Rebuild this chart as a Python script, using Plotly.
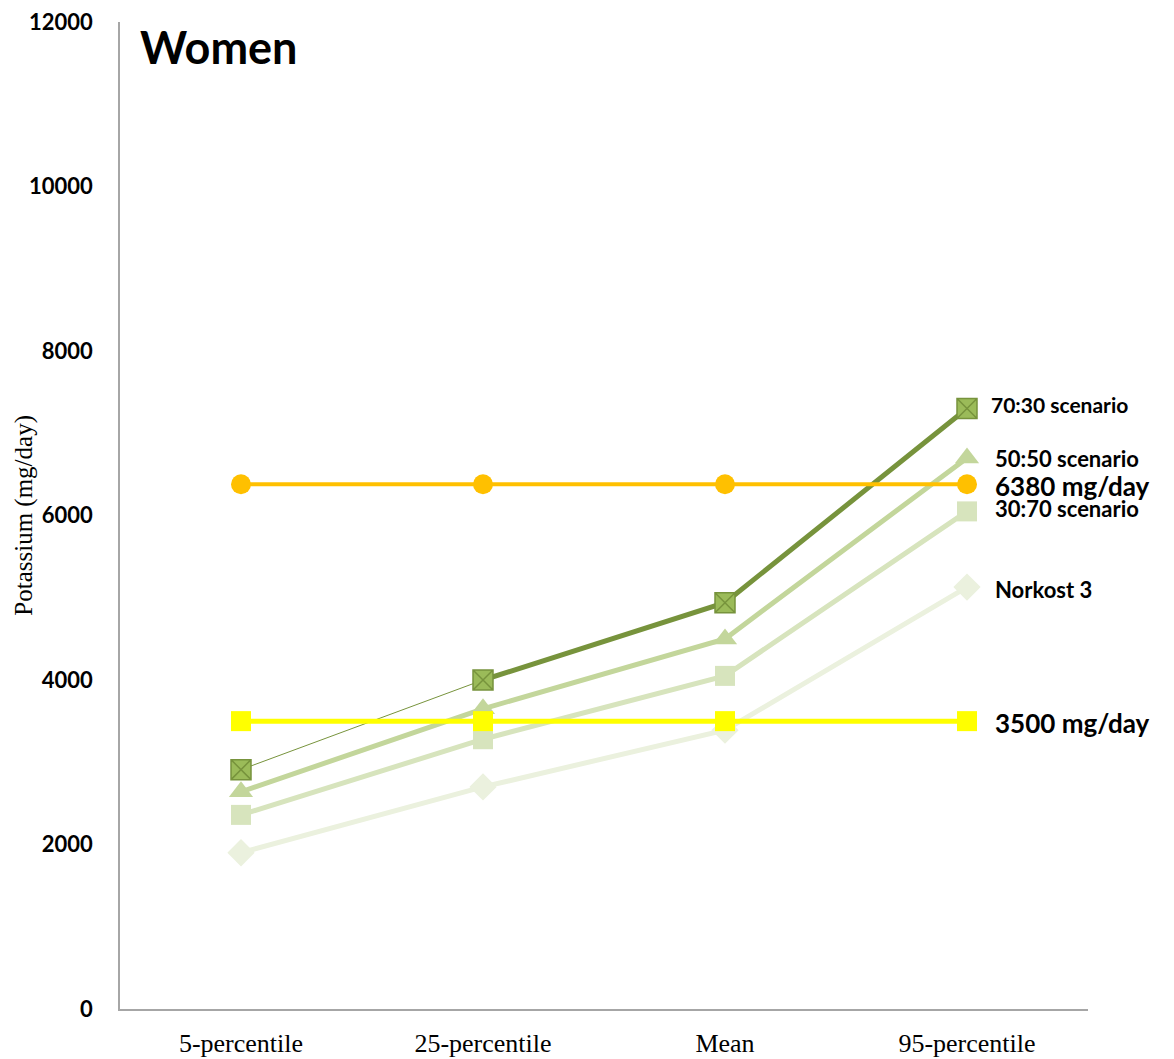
import plotly.graph_objects as go

# Percentile categories on the x axis
categories = ["5-percentile", "25-percentile", "Mean", "95-percentile"]

# Potassium intake (mg/day) per scenario
norkost3 = [1900, 2700, 3390, 5130]
scen_30_70 = [2360, 3280, 4050, 6050]
scen_50_50 = [2640, 3650, 4500, 6700]
scen_70_30 = [2910, 4000, 4940, 7300]

# Reference intake levels (mg/day)
upper_level = [6380, 6380, 6380, 6380]
recommended = [3500, 3500, 3500, 3500]

SANS = "Lato, 'Open Sans', sans-serif"
SERIF = "'Liberation Serif', 'Times New Roman', serif"

fig = go.Figure()

fig.add_trace(go.Scatter(
    x=categories, y=norkost3, mode="lines+markers",
    line=dict(color="#EBF1DE", width=5),
    marker=dict(symbol="diamond", size=21, color="#EBF1DE"),
))
fig.add_trace(go.Scatter(
    x=categories, y=scen_30_70, mode="lines+markers",
    line=dict(color="#D7E4BD", width=5),
    marker=dict(symbol="square", size=20, color="#D7E4BD"),
))
fig.add_trace(go.Scatter(
    x=categories, y=scen_50_50, mode="lines+markers",
    line=dict(color="#C3D69B", width=5),
    marker=dict(symbol="triangle-up", size=21, color="#C3D69B"),
))
# 70:30 scenario: thin first segment, thick remainder
fig.add_trace(go.Scatter(
    x=categories[:2], y=scen_70_30[:2], mode="lines",
    line=dict(color="#77933C", width=1),
))
fig.add_trace(go.Scatter(
    x=categories[1:], y=scen_70_30[1:], mode="lines",
    line=dict(color="#77933C", width=5),
))
fig.add_trace(go.Scatter(
    x=categories, y=scen_70_30, mode="markers",
    marker=dict(symbol="square-x", size=20, color="#9BBB59",
                line=dict(color="#77933C", width=1.5)),
))
fig.add_trace(go.Scatter(
    x=categories, y=upper_level, mode="lines+markers",
    line=dict(color="#FFC000", width=4),
    marker=dict(symbol="circle", size=20, color="#FFC000"),
))
fig.add_trace(go.Scatter(
    x=categories, y=recommended, mode="lines+markers",
    line=dict(color="#FFFF00", width=5),
    marker=dict(symbol="square", size=20, color="#FFFF00"),
))

# End-of-line labels: text, anchor value, font size, x offset, y offset (px)
end_labels = [
    ("70:30 scenario", scen_70_30[-1], 21, 22, 4),
    ("50:50 scenario", scen_50_50[-1], 22, 26, -1),
    ("6380 mg/day", upper_level[-1], 26, 26, -2),
    ("30:70 scenario", scen_30_70[-1], 22, 26, 3),
    ("Norkost 3", norkost3[-1], 22, 26, -2),
    ("3500 mg/day", recommended[-1], 26, 26, -2),
]
for text, yv, size, xs, ys in end_labels:
    fig.add_annotation(
        x=categories[-1], y=yv, xref="x", yref="y", text="<b>" + text + "</b>",
        showarrow=False, xanchor="left", yanchor="middle",
        xshift=xs, yshift=ys, font=dict(family=SANS, size=size, color="black"),
    )

fig.add_annotation(
    x=0.019, y=0.975, xref="paper", yref="paper", text="<b>Women</b>",
    showarrow=False, xanchor="left", yanchor="middle",
    font=dict(family=SANS, size=45, color="black"),
)
fig.add_annotation(
    x=-0.1, y=0.5, xref="paper", yref="paper", text="Potassium (mg/day)",
    showarrow=False, textangle=-90, xanchor="center", yanchor="middle",
    font=dict(family=SERIF, size=25, color="black"),
)

fig.update_layout(
    width=1174, height=1059,
    margin=dict(l=120, r=86, t=22, b=50),
    paper_bgcolor="white", plot_bgcolor="white",
    showlegend=False,
    xaxis=dict(
        type="category", range=[-0.5, 3.5], automargin=False,
        showline=True, linecolor="#A6A6A6", linewidth=1.5,
        showgrid=False, ticks="", zeroline=False,
        tickfont=dict(family=SERIF, size=26, color="black"),
        ticklabelstandoff=10,
    ),
    yaxis=dict(
        range=[0, 12000], dtick=2000, tickformat="d", automargin=False,
        showline=True, linecolor="#A6A6A6", linewidth=1.5,
        showgrid=False, ticks="", zeroline=False,
        tickfont=dict(family=SANS, size=22, color="black"),
        tickprefix="<b>", ticksuffix="</b>",
        ticklabelstandoff=21,
    ),
)

fig.write_html("out.html")
